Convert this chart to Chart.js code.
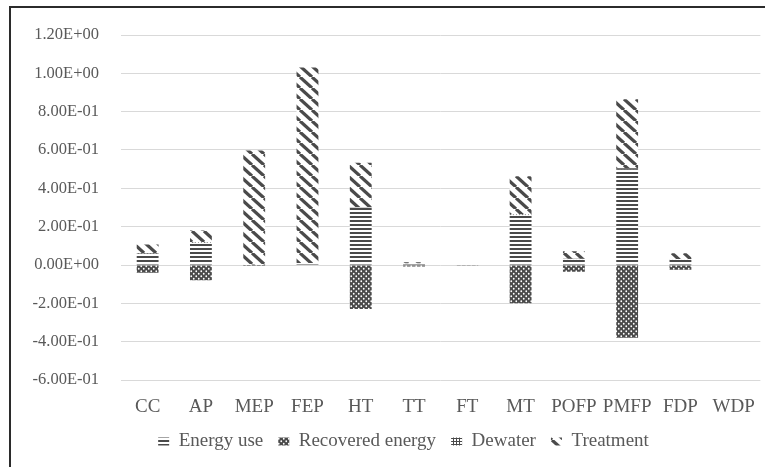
<!DOCTYPE html>
<html>
<head>
<meta charset="utf-8">
<script src="https://cdn.jsdelivr.net/npm/chart.js@4"></script>
<style>
    body { margin: 0; background: #fff; overflow: hidden; }
    #frame { position: absolute; left: 9px; top: 6px; width: 760px; height: 470px; border-left: 2px solid #2b2b2b; border-top: 2px solid #2b2b2b; }
    #chart { position: absolute; left: 0; top: 0; }
</style>
</head>
<body>
<div id="frame"></div>
<canvas id="chart" width="765" height="467"></canvas>
<script>
const categories = ['CC', 'AP', 'MEP', 'FEP', 'HT', 'TT', 'FT', 'MT', 'POFP', 'PMFP', 'FDP', 'WDP'];
const energyUse = [0.06, 0.115, 0.003, 0.01, 0.30, 0.008, 0.002, 0.26, 0.03, 0.50, 0.03, 0];
const recoveredEnergy = [-0.04, -0.08, -0.005, 0, -0.23, -0.008, -0.004, -0.20, -0.035, -0.38, -0.025, 0];
const dewater = [0.002, 0.002, 0, 0, 0.003, 0, 0, 0.003, 0.002, 0.005, 0.001, 0];
const treatment = [0.045, 0.063, 0.595, 1.02, 0.23, 0.006, 0, 0.20, 0.04, 0.36, 0.03, 0];
const yMin = -0.6;
const yMax = 1.2;
const yStep = 0.2;

const ink = '#4a4a4a';
const textColor = '#595959';
const fontFamily = "'Liberation Serif', 'Times New Roman', serif";

function makeTile(w, h, draw) {
    let c = document.createElement('canvas');
    c.width = w;
    c.height = h;
    let g = c.getContext('2d');
    g.fillStyle = '#fff';
    g.fillRect(0, 0, w, h);
    draw(g);
    return document.getElementById('chart').getContext('2d').createPattern(c, 'repeat');
}

function stripesPattern() {
    return makeTile(4, 4, function (g) {
        g.fillStyle = ink;
        g.fillRect(0, 0, 4, 2);
    });
}

function dotsPattern() {
    return makeTile(5, 5, function (g) {
        g.fillStyle = ink;
        g.fillRect(0, 0, 5, 5);
        g.fillStyle = '#fff';
        g.beginPath();
        g.arc(1.25, 1.25, 0.9, 0, Math.PI * 2);
        g.arc(3.75, 3.75, 0.9, 0, Math.PI * 2);
        g.fill();
    });
}

function gridPattern() {
    return makeTile(3, 3, function (g) {
        g.fillStyle = ink;
        g.fillRect(0, 0, 3, 1);
        g.fillRect(0, 0, 1, 3);
    });
}

function diagonalPattern() {
    let w = 12, h = 11;
    return makeTile(w, h, function (g) {
        g.strokeStyle = ink;
        g.lineWidth = 3.2;
        for (let k = -1; k <= 1; k++) {
            g.beginPath();
            g.moveTo(k * w, 0);
            g.lineTo(k * w + w, h);
            g.stroke();
        }
    });
}

function formatTick(v) {
    if (Math.abs(v) < 1e-10) v = 0;
    let parts = v.toExponential(2).split('e');
    let exp = parseInt(parts[1], 10);
    let sign = exp < 0 ? '-' : '+';
    let digits = String(Math.abs(exp)).padStart(2, '0');
    return parts[0] + 'E' + sign + digits;
}

// legend sits a bit right of the canvas centre in the original
const legendShift = {
    id: 'legendShift',
    afterLayout: function (chart) {
        chart.legend.left += 23;
        chart.legend.right += 23;
        chart.legend.top += 2;
        chart.legend.bottom += 2;
    }
};

function createChart(ctx) {
    return new Chart(ctx, {
        type: 'bar',
        data: {
            labels: categories,
            datasets: [
                { label: 'Energy use', data: energyUse, backgroundColor: stripesPattern(), borderWidth: 0 },
                { label: 'Recovered energy', data: recoveredEnergy, backgroundColor: dotsPattern(), borderWidth: 0 },
                { label: 'Dewater', data: dewater, backgroundColor: gridPattern(), borderWidth: 0 },
                { label: 'Treatment', data: treatment, backgroundColor: diagonalPattern(), borderWidth: 0 }
            ]
        },
        options: {
            responsive: false,
            animation: false,
            categoryPercentage: 1,
            barPercentage: 0.41,
            layout: {
                padding: { left: 0, right: 4, top: 35, bottom: 8 }
            },
            plugins: {
                tooltip: { enabled: false },
                legend: {
                    position: 'bottom',
                    labels: {
                        boxWidth: 11,
                        boxHeight: 8,
                        padding: 15,
                        color: textColor,
                        font: { family: fontFamily, size: 19 }
                    }
                }
            },
            scales: {
                x: {
                    stacked: true,
                    afterFit: function (scale) { scale.height = 35; },
                    grid: { display: false },
                    border: { display: false },
                    ticks: {
                        color: textColor,
                        padding: 10,
                        maxRotation: 0,
                        font: { family: fontFamily, size: 19, lineHeight: 1 }
                    }
                },
                y: {
                    stacked: true,
                    min: yMin,
                    max: yMax,
                    afterFit: function (scale) { scale.width = 121; },
                    grid: { color: '#d9d9d9', drawTicks: false },
                    border: { display: false },
                    ticks: {
                        stepSize: yStep,
                        color: textColor,
                        padding: 22,
                        font: { family: fontFamily, size: 16.5 },
                        callback: function (value) { return formatTick(value); }
                    }
                }
            }
        },
        plugins: [legendShift]
    });
}

createChart(document.getElementById('chart').getContext('2d'));
</script>
</body>
</html>
